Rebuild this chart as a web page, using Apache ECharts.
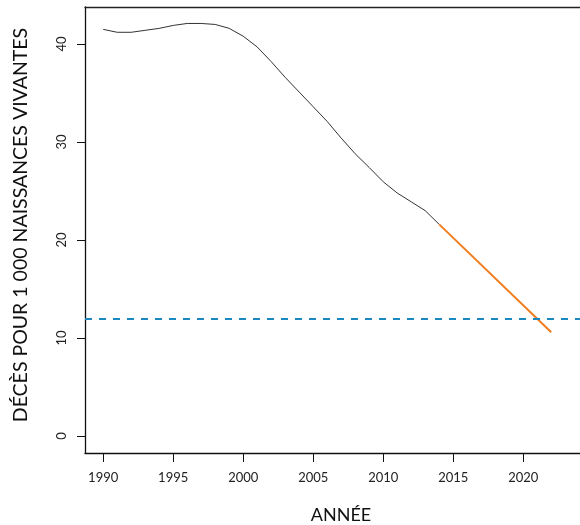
<!DOCTYPE html>
<html>
<head>
<meta charset="utf-8">
<script src="https://cdn.jsdelivr.net/npm/echarts@6/dist/echarts.min.js"></script>
<style>html,body{margin:0;padding:0;background:#fff}#c{width:580px;height:525px}</style>
</head>
<body>
<div id="c"></div>
<script>
const years = [1990,1991,1992,1993,1994,1995,1996,1997,1998,1999,2000,2001,2002,2003,2004,2005,2006,2007,2008,2009,2010,2011,2012,2013,2014];
const mortality = [41.5,41.2,41.2,41.4,41.6,41.9,42.1,42.1,42.0,41.6,40.8,39.7,38.2,36.6,35.1,33.6,32.1,30.4,28.8,27.4,25.95,24.8,23.9,23.0,21.6];
const projYears = [2014,2022];
const projValues = [21.6,10.6];
const target = 12;
const xTicks = [1990,1995,2000,2005,2010,2015,2020];
const yTicks = [0,10,20,30,40];
const xTitle = 'ANNÉE';
const yTitle = 'DÉCÈS POUR 1 000 NAISSANCES VIVANTES';

const FONT = 'Lato, "Open Sans", sans-serif';
const chart = echarts.init(document.getElementById('c'), null, {renderer:'canvas'});
chart.setOption({
  animation:false,
  backgroundColor:'#fff',
  grid:{left:85, top:7, width:512, height:446, show:false, containLabel:false, outerBoundsMode:'none'},
  xAxis:[{type:'value', min:1988.7, max:2025.27, position:'bottom',
    axisLine:{show:true, onZero:false, lineStyle:{color:'#111', width:1.3}},
    axisTick:{show:true, length:9, customValues:xTicks, lineStyle:{color:'#111', width:1}},
    axisLabel:{show:true, customValues:xTicks, formatter:v=>String(v), margin:18, fontFamily:FONT, fontSize:13, color:'#222'},
    splitLine:{show:false}},
   {type:'value', min:1988.7, max:2025.27, position:'top',
    axisLine:{show:true, onZero:false, lineStyle:{color:'#222', width:1.3}},
    axisTick:{show:false}, axisLabel:{show:false}, splitLine:{show:false}}],
  yAxis:{type:'value', min:-1.73, max:43.78,
    axisLine:{show:true, onZero:false, lineStyle:{color:'#111', width:1.3}},
    axisTick:{show:true, length:8, customValues:yTicks, lineStyle:{color:'#111', width:1}},
    axisLabel:{show:true, customValues:yTicks, formatter:v=>String(v), rotate:90, margin:17, fontFamily:FONT, fontSize:13, color:'#222'},
    splitLine:{show:false}},
  series:[
    {type:'line', data:years.map((y,i)=>[y,mortality[i]]), showSymbol:false, symbol:'none',
      lineStyle:{color:'#333', width:1}, z:3,
      markLine:{silent:true, symbol:['none','none'], label:{show:false},
        lineStyle:{color:'#1b87bf', width:2, type:[7,7]},
        data:[{yAxis:target}]}},
    {type:'line', data:projYears.map((y,i)=>[y,projValues[i]]), showSymbol:false, symbol:'none',
      lineStyle:{color:'#f07d1e', width:2}, z:4}
  ],
  graphic:[
    {type:'text', x:341, y:515, style:{text:xTitle, font:'18px '+FONT, fill:'#111', align:'center', verticalAlign:'middle'}, z:10},
    {type:'text', x:21, y:225, rotation:Math.PI/2, style:{text:yTitle, font:'19.5px '+FONT, fill:'#111', align:'center', verticalAlign:'middle'}, z:10}
  ]
});
</script>
</body>
</html>
